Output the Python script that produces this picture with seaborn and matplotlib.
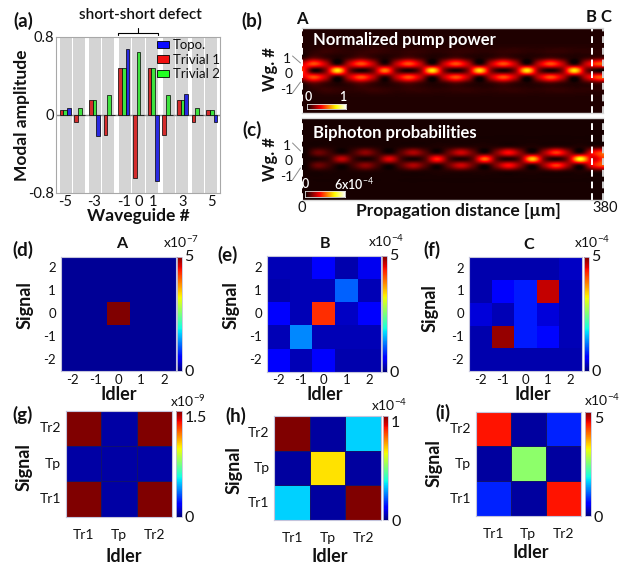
import numpy as np
import pandas as pd
import matplotlib
matplotlib.use("Agg")
import matplotlib.pyplot as plt
import seaborn as sns
from matplotlib.patches import Patch
from matplotlib.lines import Line2D
import matplotlib.transforms as mtransforms

# ---------------- data ----------------
waveguides = [-5, -4, -3, -2, -1, 0, 1, 2, 3, 4, 5]
topo = [0.072, 0.0, -0.22, 0.0, 0.68, 0.0, -0.675, 0.0, 0.22, 0.0, -0.07]
trivial1 = [0.05, -0.07, 0.15, -0.21, 0.48, -0.645, 0.48, -0.21, 0.15, -0.07, 0.05]
trivial2 = [0.05, 0.068, 0.15, 0.21, 0.48, 0.645, 0.48, 0.21, 0.15, 0.068, 0.05]
mode_names = ["Topo.", "Trivial 1", "Trivial 2"]
wg_tick_labels = [-5, -3, -1, 0, 1, 3, 5]

# (b) normalized pump power along propagation (26 samples over 0..380 um)
pump_wg0 = [0.45, 0.02, 0.18, 0.72, 0.18, 0.02, 0.15, 0.55, 0.15, 0.02, 0.18, 0.72, 0.18,
            0.02, 0.18, 0.70, 0.18, 0.02, 0.18, 0.72, 0.18, 0.02, 0.18, 0.72, 0.18, 0.02]
pump_wg1 = [0.30, 0.48, 0.28, 0.04, 0.28, 0.48, 0.28, 0.05, 0.28, 0.48, 0.28, 0.04, 0.28,
            0.48, 0.28, 0.04, 0.28, 0.48, 0.28, 0.04, 0.28, 0.48, 0.28, 0.04, 0.28, 0.48]
pump_wg2 = [0.04, 0.12, 0.07, 0.03, 0.07, 0.12, 0.07, 0.03, 0.07, 0.11, 0.07, 0.03, 0.06,
            0.10, 0.06, 0.03, 0.06, 0.10, 0.06, 0.03, 0.06, 0.09, 0.06, 0.03, 0.06, 0.09]
pump_wg3 = [0.03, 0.05, 0.07, 0.06, 0.05, 0.06, 0.07, 0.06, 0.05, 0.06, 0.06, 0.05, 0.05,
            0.06, 0.06, 0.05, 0.05, 0.06, 0.06, 0.05, 0.05, 0.06, 0.06, 0.05, 0.05, 0.05]
pump_bg = 0.035

# (c) biphoton probabilities (units of 6e-4, 26 samples)
bip_wg0 = [0.02, 0.03, 0.08, 0.28, 0.08, 0.02, 0.09, 0.33, 0.09, 0.02, 0.11, 0.42, 0.11,
           0.03, 0.13, 0.52, 0.13, 0.03, 0.16, 0.66, 0.16, 0.03, 0.20, 0.76, 0.30, 0.45]
bip_wg1 = [0.02, 0.15, 0.08, 0.02, 0.09, 0.20, 0.09, 0.02, 0.12, 0.25, 0.12, 0.03, 0.15,
           0.30, 0.15, 0.03, 0.19, 0.38, 0.19, 0.04, 0.23, 0.45, 0.23, 0.05, 0.35, 0.50]
bip_wg2 = [0.02, 0.03, 0.03, 0.02, 0.03, 0.04, 0.03, 0.02, 0.03, 0.04, 0.03, 0.03, 0.04,
           0.05, 0.04, 0.03, 0.04, 0.05, 0.04, 0.03, 0.04, 0.06, 0.04, 0.03, 0.05, 0.06]
bip_bg = 0.02

prop_length = 380
point_B = 366

signal_idx = [2, 1, 0, -1, -2]
idler_idx = [-2, -1, 0, 1, 2]
corr_A = [[0.1, 0.1, 0.1, 0.1, 0.1],
          [0.1, 0.1, 0.1, 0.1, 0.1],
          [0.1, 0.1, 5.0, 0.1, 0.1],
          [0.1, 0.1, 0.1, 0.1, 0.1],
          [0.1, 0.1, 0.1, 0.1, 0.1]]
corr_B = [[0.25, 0.25, 0.60, 0.20, 0.50],
          [0.20, 0.25, 0.25, 1.10, 0.25],
          [0.60, 0.25, 4.30, 0.30, 0.55],
          [0.25, 1.30, 0.25, 0.25, 0.25],
          [0.55, 0.25, 0.60, 0.20, 0.20]]
corr_C = [[0.20, 0.20, 0.20, 0.20, 0.30],
          [0.20, 0.55, 0.75, 4.70, 0.25],
          [0.40, 0.25, 0.75, 0.40, 0.25],
          [0.20, 4.90, 0.75, 0.65, 0.25],
          [0.20, 0.20, 0.20, 0.20, 0.20]]
signal_modes = ["Tr2", "Tp", "Tr1"]
idler_modes = ["Tr1", "Tp", "Tr2"]
corr_G = [[1.5, 0.05, 1.5],
          [0.05, 0.05, 0.05],
          [1.5, 0.05, 1.5]]
corr_H = [[1.0, 0.03, 0.33],
          [0.03, 0.67, 0.03],
          [0.33, 0.03, 1.0]]
corr_I = [[4.45, 0.15, 0.80],
          [0.15, 2.60, 0.15],
          [0.80, 0.15, 4.45]]

# ---------------- style ----------------
sns.set_theme(style="white")
plt.rcParams["font.family"] = ["Lato", "DejaVu Sans"]
plt.rcParams["mathtext.fontset"] = "custom"
plt.rcParams["mathtext.rm"] = "Lato"
plt.rcParams["mathtext.it"] = "Lato"
plt.rcParams["text.color"] = "#111111"

W, H = 631, 563
fig = plt.figure(figsize=(W / 100, H / 100), dpi=100, facecolor="white")


def box(x0, y0, x1, y1):
    return [x0 / W, 1 - y1 / H, (x1 - x0) / W, (y1 - y0) / H]


def ftext(x, y, s, **kw):
    kw.setdefault("ha", "center")
    kw.setdefault("va", "center")
    return fig.text(x / W, 1 - y / H, s, **kw)


def fline(xs, ys, **kw):
    fig.add_artist(Line2D([x / W for x in xs], [1 - y / H for y in ys],
                          transform=fig.transFigure, **kw))


# ---------------- (a) bar chart ----------------
ax = fig.add_axes(box(56, 37, 220, 193))
df = pd.DataFrame({
    "wg": waveguides * 3,
    "amp": topo + trivial1 + trivial2,
    "mode": ["Topo."] * 11 + ["Trivial 1"] * 11 + ["Trivial 2"] * 11,
})
palette = {"Topo.": "#0a0aff", "Trivial 1": "#f01010", "Trivial 2": "#22ff22"}
# grey waveguide stripes (pairs closer together, short-short defect in middle)
shift = {-5: 0.05, -4: -0.05, -3: 0.05, -2: -0.05, -1: 0.08, 0: 0.0, 1: -0.08,
         2: 0.05, 3: -0.05, 4: 0.05, 5: -0.05}
for w in waveguides:
    c = w + shift[w]
    ax.axvspan(c - 0.41, c + 0.41, color="#d4d4d4", lw=0, zorder=0)
sns.barplot(data=df, x="wg", y="amp", hue="mode",
            hue_order=["Trivial 1", "Trivial 2", "Topo."], palette=palette,
            native_scale=True, width=0.74, edgecolor="black", linewidth=0.5,
            legend=False, ax=ax, zorder=3)
ax.axhline(0, color="#8a8a8a", lw=1.0, zorder=2)
ax.set_xlim(-5.62, 5.55)
ax.set_ylim(-0.8, 0.8)
ax.set_yticks([-0.8, -0.6, -0.4, -0.2, 0, 0.2, 0.4, 0.6, 0.8])
ax.set_yticklabels(["-0.8", "", "", "", "0", "", "", "", "0.8"])
ax.set_xticks(waveguides)
ax.set_xticklabels([str(w) if w in wg_tick_labels else "" for w in waveguides])
ax.tick_params(axis="both", direction="in", length=3, width=0.6, color="#909090",
               labelsize=10.5, pad=1.5, labelcolor="#111111")
ax.set_xlabel("")
ax.set_ylabel("")
for sp in ax.spines.values():
    sp.set_color("#a8a8a8")
    sp.set_linewidth(0.8)
handles = [Patch(facecolor=palette[m], edgecolor="black", lw=0.6) for m in mode_names]
ax.legend(handles, mode_names, loc="upper left", bbox_to_anchor=(0.615, 0.985),
          frameon=False, fontsize=9.5, handlelength=0.9, handleheight=0.5,
          handletextpad=0.3, labelspacing=0.18, borderpad=0, borderaxespad=0)
tr = mtransforms.blended_transform_factory(ax.transData, ax.transAxes)
ax.plot([-1.42, -1.42, 1.32, 1.32], [1.013, 1.026, 1.026, 1.013], color="black",
        lw=0.8, transform=tr, clip_on=False)
ax.plot([-0.05, -0.05], [1.026, 1.058], color="black", lw=0.8, transform=tr, clip_on=False)
ftext(140, 15, "short-short defect", fontsize=11, fontweight="semibold")
ftext(22, 115, "Modal amplitude", fontsize=12.5, fontweight="bold", rotation=90)
ftext(138, 216, "Waveguide #", fontsize=12.5, fontweight="bold")
ftext(23, 21, "(a)", fontsize=13.5, fontweight="bold")


# ---------------- (b), (c) propagation maps ----------------
def build(r0, r1, r2, r3, bg):
    n = len(r0)
    lookup = {0: r0, 1: r1, 2: r2, 3: r3}
    rows = []
    for w in range(6, -7, -1):
        r = lookup.get(abs(w), None)
        if r is None or np.isscalar(r):
            r = [bg] * n
        rows.append(list(r))
    return np.array(rows, dtype=float)


pump = build(pump_wg0, pump_wg1, pump_wg2, pump_wg3, pump_bg)
bip = build(bip_wg0, bip_wg1, bip_wg2, None, bip_bg)


def prop_panel(y0, y1, M, dz, z0):
    a = fig.add_axes(box(301.7, y0, 603, y1))
    n = M.shape[1]
    a.imshow(M, cmap="hot", vmin=0, vmax=1, aspect="auto", interpolation="catrom",
             interpolation_stage="data",
             extent=[z0 - dz / 2, z0 + (n - 1) * dz + dz / 2, -6.5, 6.5], origin="upper")
    a.set_facecolor("black")
    a.set_xlim(0, prop_length)
    a.set_ylim(-6.5, 6.5)
    a.set_xticks([])
    a.set_yticks([])
    for s in ["left", "right"]:
        a.spines[s].set_visible(False)
    for s in ["top", "bottom"]:
        a.spines[s].set_color("#d8d8d8")
        a.spines[s].set_linewidth(1.0)
    a.axvline(0, color="white", ls=(0, (3.5, 2.5)), lw=1.4, clip_on=False)
    a.axvline(point_B, color="white", ls=(0, (3.5, 2.5)), lw=1.4)
    a.axvline(prop_length, color="#d0d0d0", ls=(0, (3.5, 2.5)), lw=1.4, clip_on=False)
    return a


dz_b = prop_length / 25.5
axb = prop_panel(28.3, 113.3, pump, dz_b, 0.0)
axc = prop_panel(118.3, 200, bip, 15.0, 5.0)
ftext(313, 40, "Normalized pump power", fontsize=12, fontweight="bold", color="white", ha="left")
ftext(313, 133, "Biphoton probabilities", fontsize=12, fontweight="bold", color="white", ha="left")

# inset colour bars
grad = np.linspace(0, 1, 256)[None, :]
for (x0, y0, x1, y1) in [(306.7, 103.7, 345.5, 109.3), (305, 191.3, 345, 197.3)]:
    ia = fig.add_axes(box(x0, y0, x1, y1))
    ia.imshow(grad, cmap="hot", aspect="auto")
    ia.set_xticks([]); ia.set_yticks([])
    for sp in ia.spines.values():
        sp.set_color("#e0e0e0"); sp.set_linewidth(0.6)
ftext(308, 97, "0", fontsize=9, color="white", fontweight="semibold")
ftext(343, 97, "1", fontsize=9, color="white", fontweight="semibold")
ftext(305, 184, "0", fontsize=9, color="white", fontweight="semibold")
ftext(334, 184, r"6x10$^{-4}$", fontsize=9, color="white", fontweight="semibold", ha="left")

# waveguide labels
for (yc, y1, y0, ym1, r1, rm1) in [(69, 59, 74, 90, 63, 82), (159, 146, 161, 177, 151, 168)]:
    ftext(270, yc, "Wg. #", fontsize=12, fontweight="bold", rotation=90)
    ftext(291, y1, "1", fontsize=10, ha="right")
    ftext(293, y0, "0", fontsize=10, ha="right")
    ftext(293, ym1, "-1", fontsize=10, ha="right")
    fline([292.5, 300.5], [y1 - 3, r1], color="#8a8a8a", lw=0.7)
    fline([292.5, 300.5], [ym1 + 3, rm1], color="#8a8a8a", lw=0.7)

ftext(302, 19, "A", fontsize=12, fontweight="bold")
ftext(591, 16.5, "B", fontsize=12, fontweight="bold")
ftext(606, 16.5, "C", fontsize=12, fontweight="bold")
ftext(302, 208, "0", fontsize=10.5)
ftext(605, 208, "380", fontsize=10.5)
ftext(458, 211, "Propagation distance [µm]", fontsize=12.5, fontweight="bold")
ftext(252, 21, "(b)", fontsize=13.5, fontweight="bold")
ftext(252, 130, "(c)", fontsize=13.5, fontweight="bold")


# ---------------- (d)-(i) correlation maps ----------------
def corr_panel(axbox, cbox, data, rows, cols, vmax, vlabel, exp_text, exp_pos,
               lines=False, xpad=2.0, tsize=9.5, top_va="center"):
    a = fig.add_axes(box(*axbox))
    ca = fig.add_axes(box(*cbox))
    dfm = pd.DataFrame(data, index=rows, columns=cols)
    sns.heatmap(dfm, ax=a, cbar_ax=ca, cmap="jet", vmin=0, vmax=vmax,
                xticklabels=True, yticklabels=True,
                linewidths=0.4 if lines else 0, linecolor="#101070")
    a.set_xlabel(""); a.set_ylabel("")
    a.tick_params(axis="both", length=0, labelsize=tsize, labelcolor="#111111")
    a.tick_params(axis="x", pad=xpad)
    a.tick_params(axis="y", pad=3.5)
    plt.setp(a.get_yticklabels(), rotation=0)
    plt.setp(a.get_xticklabels(), rotation=0)
    for sp in a.spines.values():
        sp.set_visible(True); sp.set_color("#c4c4dc"); sp.set_linewidth(0.8)
    cb = a.collections[0].colorbar
    cb.set_ticks([0, vmax])
    cb.set_ticklabels(["0", vlabel])
    ca.tick_params(length=0, labelsize=11.5, pad=2, labelcolor="#111111")
    ca.get_yticklabels()[-1].set_verticalalignment(top_va)
    cb.outline.set_edgecolor("#c4c4dc"); cb.outline.set_linewidth(0.6)
    ftext(exp_pos[0], exp_pos[1], exp_text, fontsize=10)
    return a


corr_panel((60.7, 256.7, 175.7, 371), (176.7, 256.7, 181.7, 371), corr_A,
           signal_idx, idler_idx, 5, "5", r"x10$^{-7}$", (181, 242))
corr_panel((266.7, 256, 381, 371.7), (382, 256, 386.5, 371.7), corr_B,
           signal_idx, idler_idx, 5, "5", r"x10$^{-4}$", (386, 241))
corr_panel((469, 257.3, 581.7, 371), (584, 257.3, 588.5, 371), corr_C,
           signal_idx, idler_idx, 5, "5", r"x10$^{-4}$", (592, 242))
corr_panel((66, 410.7, 172.3, 516.7), (175.7, 410.7, 181.7, 516.7), corr_G,
           signal_modes, idler_modes, 1.5, "1.5", r"x10$^{-9}$", (188, 401),
           lines=True, xpad=9, tsize=10, top_va="top")
corr_panel((274.3, 416, 381, 520), (383.3, 416, 388.3, 520), corr_H,
           signal_modes, idler_modes, 1.0, "1", r"x10$^{-4}$", (389, 405),
           lines=True, xpad=9, tsize=10, top_va="top")
corr_panel((475.7, 411.7, 580.7, 516), (585, 411.7, 591, 516), corr_I,
           signal_modes, idler_modes, 5, "5", r"x10$^{-4}$", (602, 400),
           lines=True, xpad=9, tsize=10, top_va="top")

for (x, y, s) in [(122, 244, "A"), (325, 244, "B"), (529, 245, "C")]:
    ftext(x, y, s, fontsize=11.5, fontweight="bold")
for (x, y) in [(25, 305), (231, 305), (430, 308), (24, 467), (234, 470), (434, 463)]:
    ftext(x, y, "Signal", fontsize=13, fontweight="bold", rotation=90)
for (x, y) in [(119, 395), (325, 395), (533, 395), (124, 556), (330, 556), (531, 553)]:
    ftext(x, y, "Idler", fontsize=13, fontweight="bold")
for (x, y, s) in [(23, 250, "(d)"), (228, 255, "(e)"), (432, 250, "(f)"),
                  (23, 415, "(g)"), (236, 416, "(h)"), (443, 413, "(i)")]:
    ftext(x, y, s, fontsize=13.5, fontweight="bold")

fig.savefig("out.png", dpi=100, facecolor="white")
